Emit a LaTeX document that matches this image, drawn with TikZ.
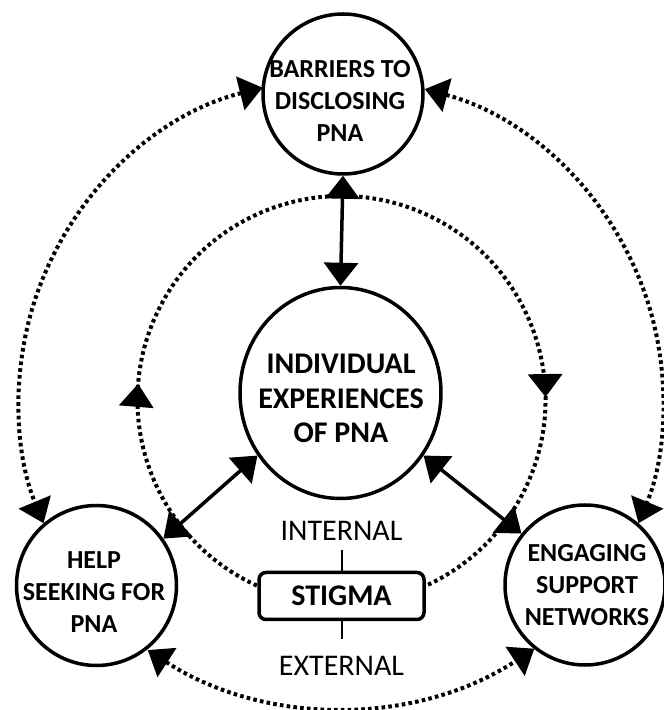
\documentclass[tikz,border=0pt]{standalone}
\usepackage{fontspec}
\setmainfont{Carlito}
\usetikzlibrary{arrows.meta,shapes.geometric,decorations.markings,calc}
\begin{document}
\begin{tikzpicture}[x=1pt,y=1pt,
  >={Triangle[length=23pt,width=34pt]},
  ring/.style={circle, draw, line width=3.5pt, minimum size=160pt, inner sep=0pt},
  oval/.style={ellipse, draw, line width=3.5pt, minimum width=201pt, minimum height=211pt, inner sep=0pt},
  lbl/.style={align=center, font=\fontsize{26}{32}\selectfont\bfseries, inner sep=0pt},
  bigfont/.style={font=\fontsize{30}{34.5}\selectfont\bfseries},
  solidarrow/.style={line width=3.5pt, <->},
  dotline/.style={line width=4pt, dash pattern=on 3.6pt off 3.2pt},
  stigbox/.style={draw, line width=3.5pt, rounded corners=7pt, minimum width=165pt, minimum height=47pt, inner sep=0pt, font=\fontsize{30}{36}\selectfont\bfseries},
  sidelbl/.style={font=\fontsize{30}{36}\selectfont, inner xsep=0pt, text height=19pt, text depth=0pt},
  thinline/.style={line width=2pt}
]
\useasboundingbox (0,0) rectangle (664,710);
\fill[white] (0,0) rectangle (664,710);
\clip (0,0) rectangle (664,710);

% main nodes
\node[ring] (bar) at (343,616) {};
\node[lbl] (bartxt) at (340,609) {BARRIERS TO\\DISCLOSING\\PNA};
\node[oval] (ctr) at (340.5,317) {};
\node[lbl, bigfont] (ctrtxt) at (341,311.5) {INDIVIDUAL\\EXPERIENCES\\OF PNA};
\node[ring] (help) at (96.5,124.5) {};
\node[lbl] (helptxt) at (94,117.5) {HELP\\SEEKING FOR\\PNA};
\node[ring] (eng) at (585,125) {};
\node[lbl] (engtxt) at (587,125) {ENGAGING\\SUPPORT\\NETWORKS};
\node[stigbox] (stig) at (341.5,114) {STIGMA};
\node[sidelbl, inner ysep=9pt] (int) at (341.5,178.5) {INTERNAL};
\node[sidelbl, inner ysep=17.5pt] (ext) at (341.5,44) {EXTERNAL};

% solid arrows
\draw[solidarrow] (ctr.north) -- (bar.south);
\draw[solidarrow] (ctr.217) -- (help.35);
\draw[solidarrow] (ctr.323) -- (eng.141);

% stigma ticks
\draw[thinline] (int.south) -- (stig.north);
\draw[thinline] (stig.south) -- (ext.north);

% centres of the dotted arcs
\coordinate (oc) at (341,310);
\coordinate (ic) at (341.5,310);
\coordinate (bc) at (340,356);

% outer dotted arcs
\coordinate (oTL) at ($(oc)+(104.1:322)$);
\coordinate (oTR) at ($(oc)+(74.9:322)$);
\coordinate (oB) at ($(bc)+(237:353)$);
\draw[dotline,<->] (oTL) arc[start angle=104.1, end angle=202.5, radius=322];
\draw[dotline,<->] (oTR) arc[start angle=74.9, end angle=-22.5, radius=322];
\draw[dotline,<->] (oB) arc[start angle=237, end angle=303.4, radius=353];

% inner dotted arc from stigma round to stigma
\coordinate (iL) at ($(ic)+(245.5:204)$);
\draw[dotline,
  decoration={markings,
    mark=at position 0.225 with {\arrow{>}},
    mark=at position 0.786 with {\arrow{>}}},
  postaction={decorate}]
  (iL) arc[start angle=245.5, end angle=-65.8, radius=204];
\end{tikzpicture}
\end{document}
